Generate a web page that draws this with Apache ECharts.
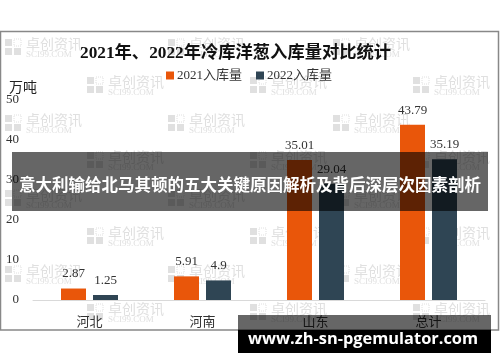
<!DOCTYPE html>
<html><head><meta charset="utf-8">
<script src="https://cdn.jsdelivr.net/npm/echarts@6/dist/echarts.min.js"></script>
<style>html,body{margin:0;padding:0;background:#fff}#c{width:500px;height:362px}</style>
</head><body><div id="c"></div>
<script>
var categories = ['河北', '河南', '山东', '总计'];
var series2021 = [2.87, 5.91, 35.01, 43.79];
var series2022 = [1.25, 4.9, 29.04, 35.19];
var seriesNames = ['2021入库量', '2022入库量'];
var yTicks = [0, 10, 20, 30, 40, 50];
var titleText = '2021年、2022年冷库洋葱入库量对比统计';
var unitText = '万吨';
var bannerText = '意大利输给北马其顿的五大关键原因解析及背后深层次因素剖析';
var siteText = 'www.zh-sn-pgemulator.com';

var serif = '"Liberation Serif","DejaVu Serif","Noto Sans CJK SC",serif';
var wmColor = '#e0e0e0';
function watermark(x, y) {
  return {
    type: 'group', x: x, y: y, z: 0, silent: true,
    children: [
      {type: 'rect', shape: {x: 0, y: 2, width: 7, height: 7}, style: {fill: wmColor}},
      {type: 'rect', shape: {x: 9, y: 2, width: 7, height: 7}, style: {fill: 'none', stroke: wmColor, lineWidth: 1, lineDash: [1, 1]}},
      {type: 'rect', shape: {x: 0, y: 11, width: 7, height: 7}, style: {fill: wmColor}},
      {type: 'rect', shape: {x: 9, y: 11, width: 7, height: 7}, style: {fill: wmColor}},
      {type: 'text', style: {x: 21, y: 0, text: '卓创资讯', fill: wmColor, fontSize: 14, fontFamily: 'Noto Sans CJK SC'}},
      {type: 'text', style: {x: 21, y: 13, text: 'SCI99.COM', fill: wmColor, fontSize: 9, fontFamily: 'Liberation Serif'}}
    ]
  };
}
var wms = [];
var rowY = [37, 75, 113, 150, 188, 226, 264, 302];
rowY.forEach(function (y, i) {
  var xs = (i % 2 === 0) ? [5, 168, 333] : [87, 250, 413];
  xs.forEach(function (x) { wms.push(watermark(x, y)); });
});

var chart = echarts.init(document.getElementById('c'));
chart.setOption({
  animation: false,
  backgroundColor: '#fff',
  title: {
    text: titleText, left: 80, top: 45, padding: 0,
    textStyle: {fontFamily: serif, fontSize: 17.3, fontWeight: 'bold', color: '#111'}
  },
  legend: {
    data: seriesNames, left: 166, top: 69, padding: 0, itemWidth: 8, itemHeight: 8, itemGap: 14,
    icon: 'rect',
    textStyle: {fontFamily: serif, fontSize: 13, color: '#333', padding: [0, 0, 0, -2]}
  },
  grid: {left: 33, right: 15, top: 100, bottom: 62},
  xAxis: {
    type: 'category', data: categories,
    axisLine: {lineStyle: {color: '#d9d9d9'}},
    axisTick: {show: false},
    axisLabel: {fontFamily: serif, fontSize: 13, color: '#333', margin: 16}
  },
  yAxis: {
    type: 'value', min: yTicks[0], max: yTicks[yTicks.length - 1], interval: 10,
    splitLine: {show: false}, axisLine: {show: false}, axisTick: {show: false},
    axisLabel: {fontFamily: serif, fontSize: 13, color: '#333', margin: 14}
  },
  series: [
    {name: seriesNames[0], type: 'bar', data: series2021, barWidth: 25, barGap: '28%',
     itemStyle: {color: '#E9560A'},
     label: {show: true, position: 'top', distance: 8, fontFamily: serif, fontSize: 13, color: '#333'}},
    {name: seriesNames[1], type: 'bar', data: series2022, barWidth: 25,
     itemStyle: {color: '#2F4554'},
     label: {show: true, position: 'top', distance: 8, fontFamily: serif, fontSize: 13, color: '#333'}}
  ],
  graphic: wms.concat([
    {type: 'rect', z: 1, silent: true, shape: {x: 0.5, y: 31.5, width: 498, height: 298.5},
     style: {fill: 'none', stroke: '#888', lineWidth: 1.5}},
    {type: 'text', z: 5, style: {x: 9, y: 80, text: unitText, fill: '#222', fontSize: 14, fontFamily: 'Noto Sans CJK SC'}},
    {type: 'rect', z: 100, silent: true, shape: {x: 12, y: 152, width: 476, height: 59},
     style: {fill: 'rgba(0,0,0,0.6)'}},
    {type: 'text', z: 101, x: 250, y: 185, style: {x: 0, y: 0, text: bannerText, fill: '#fff',
     fontSize: 16.5, fontWeight: 'bold', fontFamily: 'Noto Sans CJK SC', align: 'center', verticalAlign: 'middle'}},
    {type: 'rect', z: 100, silent: true, shape: {x: 238, y: 315, width: 253, height: 15},
     style: {fill: 'rgba(0,0,0,0.6)'}},
    {type: 'rect', z: 100, silent: true, shape: {x: 238, y: 330, width: 253, height: 23},
     style: {fill: '#000'}},
    {type: 'text', z: 101, x: 363, y: 339, style: {x: 0, y: 0, text: siteText, fill: '#fff',
     fontSize: 16.4, fontWeight: 'bold', fontFamily: 'Open Sans', align: 'center', verticalAlign: 'middle'}}
  ])
});
</script></body></html>
